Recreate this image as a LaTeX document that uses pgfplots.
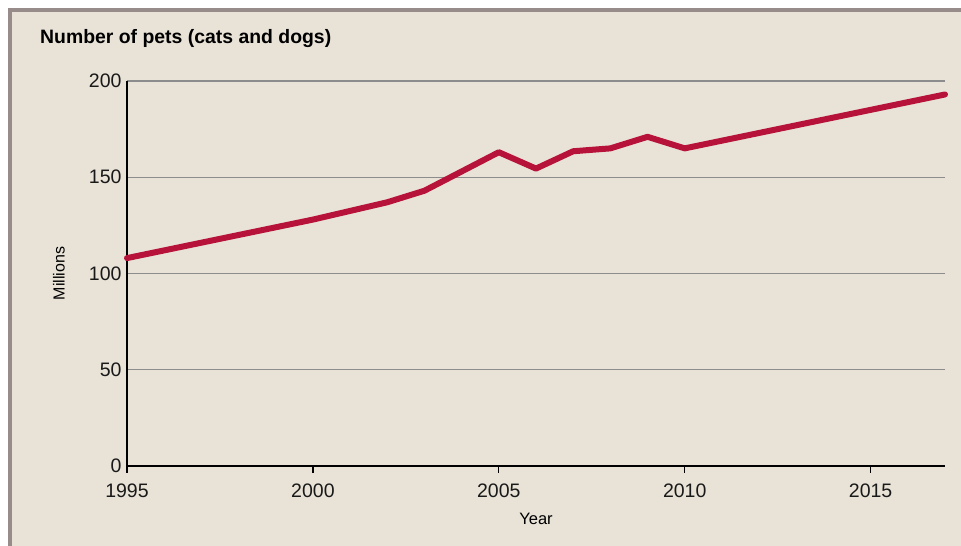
\documentclass[border=0pt]{standalone}
\usepackage{pgfplots}
\pgfplotsset{compat=1.18}
\usepackage{fontspec}
\setmainfont{Liberation Sans}
\definecolor{bg}{HTML}{E9E3D7}
\definecolor{bordergray}{HTML}{978C8A}
\definecolor{linered}{HTML}{B7123A}
\definecolor{gridgray}{HTML}{8C8C8C}
\begin{document}
\begin{tikzpicture}[x=1bp,y=1bp]
\fill[white] (0,0) rectangle (961,546);
\fill[bordergray] (8,0) rectangle (961,538);
\fill[bg] (12,0) rectangle (961,534);
\useasboundingbox (0,0) rectangle (961,546);
\node[anchor=base west, inner sep=0pt, font=\bfseries\fontsize{19.4bp}{23bp}\selectfont] at (40,502) {Number of pets (cats and dogs)};
\begin{axis}[
  at={(127bp,80bp)}, anchor=south west,
  scale only axis, width=818bp, height=385bp,
  xmin=1995, xmax=2017, ymin=0, ymax=200,
  xtick={1995,2000,2005,2010,2015},
  ytick={0,50,100,150,200},
  axis x line*=bottom, axis y line*=left,
  axis line style={black, line width=1.3bp},
  ymajorgrids, grid style={gridgray, line width=1.2bp},
  tick align=outside, major tick length=7bp,
  xtick style={black, line width=1.2bp},
  ytick style={draw=none},
  /pgf/number format/assume math mode=true,
  x tick label style={/pgf/number format/1000 sep={}, font=\fontsize{19.5bp}{23bp}\selectfont, color=black!90, yshift=-7bp},
  y tick label style={font=\fontsize{19.5bp}{23bp}\selectfont, color=black!90, xshift=5bp},
  xlabel={Year}, ylabel={Millions},
  xlabel style={at={(axis description cs:0.5,-0.137)}, anchor=center, font=\fontsize{16.5bp}{20bp}\selectfont},
  ylabel style={at={(axis description cs:-0.0831,0.5)}, anchor=center, font=\fontsize{16bp}{20bp}\selectfont},
  clip=false,
]
\addplot[linered, line width=6bp, line join=round, line cap=round] coordinates {
(1995,108) (1996,112) (1997,116) (1998,120) (1999,124) (2000,128)
(2001,132.5) (2002,137) (2003,143) (2004,153) (2005,163) (2006,154.5)
(2007,163.5) (2008,165) (2009,171) (2010,165) (2011,169) (2012,173)
(2013,177) (2014,181) (2015,185) (2016,189) (2017,193)
};
\end{axis}
\end{tikzpicture}
\end{document}
